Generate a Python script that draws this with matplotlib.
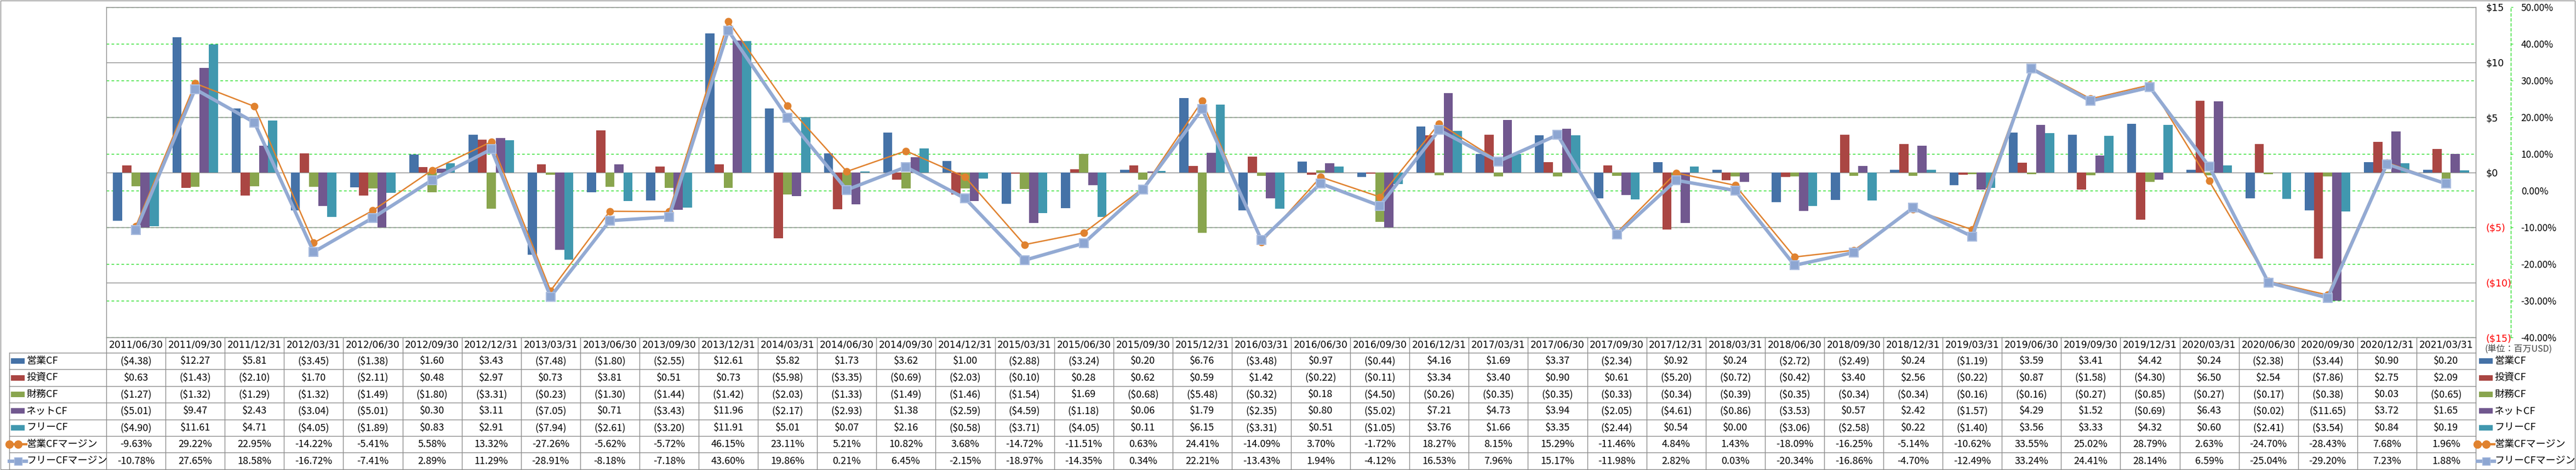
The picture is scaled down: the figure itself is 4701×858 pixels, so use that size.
import numpy as np
import matplotlib
matplotlib.use('Agg')
import matplotlib.pyplot as plt
from matplotlib.lines import Line2D
from matplotlib.patches import Rectangle
from matplotlib.transforms import blended_transform_factory

plt.rcParams['font.family'] = ['Noto Sans CJK JP', 'DejaVu Sans']

# ---- data (百万USD / %) ----
dates = ['2011/06/30', '2011/09/30', '2011/12/31', '2012/03/31', '2012/06/30', '2012/09/30',
         '2012/12/31', '2013/03/31', '2013/06/30', '2013/09/30', '2013/12/31', '2014/03/31',
         '2014/06/30', '2014/09/30', '2014/12/31', '2015/03/31', '2015/06/30', '2015/09/30',
         '2015/12/31', '2016/03/31', '2016/06/30', '2016/09/30', '2016/12/31', '2017/03/31',
         '2017/06/30', '2017/09/30', '2017/12/31', '2018/03/31', '2018/06/30', '2018/09/30',
         '2018/12/31', '2019/03/31', '2019/06/30', '2019/09/30', '2019/12/31', '2020/03/31',
         '2020/06/30', '2020/09/30', '2020/12/31', '2021/03/31']
op_cf = [-4.38, 12.27, 5.81, -3.45, -1.38, 1.60, 3.43, -7.48, -1.80, -2.55, 12.61, 5.82, 1.73,
         3.62, 1.00, -2.88, -3.24, 0.20, 6.76, -3.48, 0.97, -0.44, 4.16, 1.69, 3.37, -2.34, 0.92,
         0.24, -2.72, -2.49, 0.24, -1.19, 3.59, 3.41, 4.42, 0.24, -2.38, -3.44, 0.90, 0.20]
inv_cf = [0.63, -1.43, -2.10, 1.70, -2.11, 0.48, 2.97, 0.73, 3.81, 0.51, 0.73, -5.98, -3.35,
          -0.69, -2.03, -0.10, 0.28, 0.62, 0.59, 1.42, -0.22, -0.11, 3.34, 3.40, 0.90, 0.61, -5.20,
          -0.72, -0.42, 3.40, 2.56, -0.22, 0.87, -1.58, -4.30, 6.50, 2.54, -7.86, 2.75, 2.09]
fin_cf = [-1.27, -1.32, -1.29, -1.32, -1.49, -1.80, -3.31, -0.23, -1.30, -1.44, -1.42, -2.03,
          -1.33, -1.49, -1.46, -1.54, 1.69, -0.68, -5.48, -0.32, 0.18, -4.50, -0.26, -0.35, -0.35,
          -0.33, -0.34, -0.39, -0.35, -0.34, -0.34, -0.16, -0.16, -0.27, -0.85, -0.27, -0.17,
          -0.38, 0.03, -0.65]
net_cf = [-5.01, 9.47, 2.43, -3.04, -5.01, 0.30, 3.11, -7.05, 0.71, -3.43, 11.96, -2.17, -2.93,
          1.38, -2.59, -4.59, -1.18, 0.06, 1.79, -2.35, 0.80, -5.02, 7.21, 4.73, 3.94, -2.05, -4.61,
          -0.86, -3.53, 0.57, 2.42, -1.57, 4.29, 1.52, -0.69, 6.43, -0.02, -11.65, 3.72, 1.65]
free_cf = [-4.90, 11.61, 4.71, -4.05, -1.89, 0.83, 2.91, -7.94, -2.61, -3.20, 11.91, 5.01, 0.07,
           2.16, -0.58, -3.71, -4.05, 0.11, 6.15, -3.31, 0.51, -1.05, 3.76, 1.66, 3.35, -2.44, 0.54,
           0.00, -3.06, -2.58, 0.22, -1.40, 3.56, 3.33, 4.32, 0.60, -2.41, -3.54, 0.84, 0.19]
op_margin = [-9.63, 29.22, 22.95, -14.22, -5.41, 5.58, 13.32, -27.26, -5.62, -5.72, 46.15, 23.11,
             5.21, 10.82, 3.68, -14.72, -11.51, 0.63, 24.41, -14.09, 3.70, -1.72, 18.27, 8.15,
             15.29, -11.46, 4.84, 1.43, -18.09, -16.25, -5.14, -10.62, 33.55, 25.02, 28.79, 2.63,
             -24.70, -28.43, 7.68, 1.96]
free_margin = [-10.78, 27.65, 18.58, -16.72, -7.41, 2.89, 11.29, -28.91, -8.18, -7.18, 43.60,
               19.86, 0.21, 6.45, -2.15, -18.97, -14.35, 0.34, 22.21, -13.43, 1.94, -4.12, 16.53,
               7.96, 15.17, -11.98, 2.82, 0.03, -20.34, -16.86, -4.70, -12.49, 33.24, 24.41, 28.14,
               6.59, -25.04, -29.20, 7.23, 1.88]

bar_names = ['営業CF', '投資CF', '財務CF', 'ネットCF', 'フリーCF']
bar_colors = ['#4572A7', '#AA4643', '#89A54E', '#71588F', '#4198AF']
line_names = ['営業CFマージン', 'フリーCFマージン']
usd_ticks = [-15, -10, -5, 0, 5, 10, 15]
pct_ticks = [-40, -30, -20, -10, 0, 10, 20, 30, 40, 50]

ORANGE = '#E0822F'
LBLUE = '#93AAD3'
GREEN = '#22DD22'
GRID = '#8C8C8C'
RED = '#FF0000'

W, H = 4701, 858
fig = plt.figure(figsize=(W / 100, H / 100), dpi=100)
L, R, T, B = 194, 4518, 13, 616


def fy(py):
    return 1 - py / H


ax = fig.add_axes([L / W, fy(B), (R - L) / W, (B - T) / H])
ax2 = ax.twinx()

n = len(dates)
x = np.arange(n)
bw = 0.154
series = [op_cf, inv_cf, fin_cf, net_cf, free_cf]
for k, (vals, c) in enumerate(zip(series, bar_colors)):
    ax.bar(x + (k - 2) * bw, vals, bw, color=c, zorder=2, linewidth=0)

ax.set_xlim(-0.5, n - 0.5)
ax.set_ylim(-15, 15)
ax.set_xticks([])
ax.set_yticks(usd_ticks)
ax.set_yticklabels([f'${v}' if v >= 0 else f'(${-v})' for v in usd_ticks])
ax.yaxis.tick_right()
ax.tick_params(axis='y', length=0, pad=13.5, labelsize=12.5)
for lab, v in zip(ax.get_yticklabels(), usd_ticks):
    lab.set_fontfamily('DejaVu Sans')
    if v < 0:
        lab.set_color(RED)
ax.set_axisbelow(True)
ax.yaxis.grid(True, color=GRID, linewidth=1)
for s in ax.spines.values():
    s.set_color(GRID)
    s.set_linewidth(1)

# margin lines on secondary axis
ax2.plot(x, np.array(op_margin) / 100, color=ORANGE, lw=1.8, marker='o', ms=9,
         mfc=ORANGE, mec=ORANGE, zorder=3)
ax2.plot(x, np.array(free_margin) / 100, color=LBLUE, lw=4.5, marker='s', ms=11,
         mfc='#8DA6D2', mec='#A9BCDF', mew=1.5, zorder=4)
ax2.set_ylim(-0.40, 0.50)
ax2.set_yticks([v / 100 for v in pct_ticks])
ax2.set_yticklabels([f'{v:.2f}%' for v in pct_ticks])
ax2.tick_params(axis='y', length=3, color=GREEN, pad=10.5, labelsize=12.5)
for lab, v in zip(ax2.get_yticklabels(), pct_ticks):
    lab.set_fontfamily('DejaVu Sans')
    if v < 0:
        lab.set_color(RED)
for side in ['top', 'left', 'bottom']:
    ax2.spines[side].set_visible(False)
ax2.spines['right'].set_position(('outward', 46))
ax2.spines['right'].set_color(GREEN)
ax2.spines['right'].set_linestyle((0, (3.5, 3)))
ax2.spines['right'].set_linewidth(1)

# green dashed grid (secondary scale), drawn behind bars
gtr = blended_transform_factory(ax.transAxes, ax2.transData)
for v in pct_ticks:
    ax.add_line(Line2D([0, 1], [v / 100, v / 100], transform=gtr, color=GREEN,
                       lw=1, ls=(0, (3.5, 3)), zorder=0.4))
ax.set_xlim(-0.5, n - 0.5)
ax.set_ylim(-15, 15)

# ---- data table ----
tr = blended_transform_factory(ax.transData, fig.transFigure)
ftr = fig.transFigure
line_kw = dict(color=GRID, lw=1)
date_top, data_top, rh = 616, 644, 30.4
row_edges = [data_top + i * rh for i in range(8)]
tab_bottom = row_edges[-1]
LEG_L = 17

# horizontal lines
for yy in row_edges:
    fig.add_artist(Line2D([LEG_L / W, R / W], [fy(yy), fy(yy)], transform=ftr, **line_kw))
# vertical lines between columns
for i in range(n + 1):
    fig.add_artist(Line2D([i - 0.5, i - 0.5], [fy(date_top), fy(tab_bottom)], transform=tr, **line_kw))
fig.add_artist(Line2D([LEG_L / W, LEG_L / W], [fy(data_top), fy(tab_bottom)], transform=ftr, **line_kw))

# dates
for i, d in enumerate(dates):
    fig.text(i, fy((date_top + data_top) / 2), d, transform=tr, ha='center', va='center',
             fontsize=12.3, family='DejaVu Sans')


def usd(v):
    return f'${v:.2f}' if v >= 0 else f'(${-v:.2f})'


rows = [[usd(v) for v in s] for s in series]
rows += [[f'{v:.2f}%' for v in op_margin], [f'{v:.2f}%' for v in free_margin]]
for r, vals in enumerate(rows):
    yc = fy(row_edges[r] + rh / 2)
    for i, s in enumerate(vals):
        fig.text(i, yc, s, transform=tr, ha='center', va='center', fontsize=13)


def legend_keys(x0, xtext):
    for r in range(7):
        yc = row_edges[r] + rh / 2
        if r < 5:
            fig.add_artist(Rectangle((x0 / W, fy(yc + 5)), 25 / W, 10 / H, transform=ftr,
                                     facecolor=bar_colors[r], edgecolor='none'))
        elif r == 5:
            fig.add_artist(Line2D([(x0 - 3) / W, (x0 + 28) / W], [fy(yc), fy(yc)], transform=ftr,
                                  color=ORANGE, lw=3, marker='o', ms=10, markevery=[0],
                                  mfc=ORANGE, mec=ORANGE))
            fig.add_artist(Line2D([(x0 + 12.5) / W], [fy(yc)], transform=ftr, color=ORANGE,
                                  marker='o', ms=10, mfc=ORANGE, mec=ORANGE))
        else:
            fig.add_artist(Line2D([(x0 - 3) / W, (x0 + 28) / W], [fy(yc), fy(yc)], transform=ftr,
                                  color=LBLUE, lw=4.5))
            fig.add_artist(Line2D([(x0 + 12.5) / W], [fy(yc)], transform=ftr, color=LBLUE,
                                  marker='s', ms=10, mfc='#8DA6D2', mec='#A9BCDF'))
        name = (bar_names + line_names)[r]
        fig.text(xtext / W, fy(yc), name, transform=ftr, ha='left', va='center', fontsize=13)


legend_keys(20, 48)
legend_keys(4524, 4552)

fig.text(4535 / W, fy(638), '(単位：百万USD)', ha='left', va='center', fontsize=11.5,
         color='#404040')

# outer chart border
fig.add_artist(Rectangle((1 / W, fy(857)), 4698 / W, 856 / H, transform=ftr,
                         facecolor='none', edgecolor=GRID, lw=1))

fig.savefig('out.png', dpi=100)
